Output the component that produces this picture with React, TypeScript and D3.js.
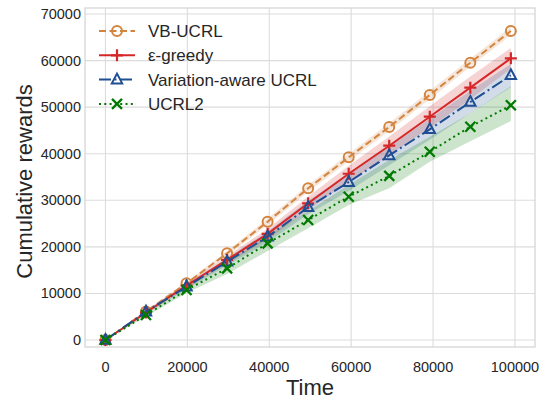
import React, { useRef, useEffect } from 'react';
import * as d3 from 'd3';

// time steps where markers sit
const steps = [0, 9900, 19800, 29700, 39600, 49500, 59400, 69300, 79200, 89100, 99000];

const vbUcrl = [0, 6100, 12170, 18610, 25400, 32570, 39230, 45740, 52610, 59550, 66350];
const vbUcrlLo = [0, 5900, 11800, 18100, 24700, 31800, 38400, 44900, 51700, 58700, 65500];
const vbUcrlHi = [0, 6300, 12500, 19100, 26100, 33300, 40000, 46600, 53500, 60400, 67200];

const epsGreedy = [0, 5900, 11700, 17200, 22800, 29350, 35700, 41720, 47950, 54180, 60490];
const epsGreedyLo = [0, 5600, 11200, 16400, 21600, 27900, 34000, 39700, 45600, 51700, 58200];
const epsGreedyHi = [0, 6200, 12200, 18000, 23900, 30800, 37400, 43700, 50200, 56600, 62700];

const varAware = [0, 6080, 11450, 16810, 22180, 28500, 33900, 39650, 45240, 51100, 56840];
const varAwareLo = [0, 5700, 10900, 16000, 21000, 27000, 32000, 37500, 43000, 48700, 54300];
const varAwareHi = [0, 6400, 12000, 17600, 23300, 29900, 35700, 41600, 47500, 53500, 59300];

const ucrl2 = [0, 5370, 10740, 15390, 20760, 25770, 30770, 35240, 40430, 45800, 50400];
const ucrl2Lo = [0, 5050, 10100, 14200, 19100, 24000, 29000, 32600, 38300, 42700, 47000];
const ucrl2Hi = [0, 5700, 11300, 16600, 22400, 27700, 33300, 38650, 43660, 48700, 54500];

const seriesNames = ['VB-UCRL', 'ε-greedy', 'Variation-aware UCRL', 'UCRL2'];
const xTicks = [0, 20000, 40000, 60000, 80000, 100000];
const yTicks = [0, 10000, 20000, 30000, 40000, 50000, 60000, 70000];

const series = [
  { name: seriesNames[0], mean: vbUcrl, lo: vbUcrlLo, hi: vbUcrlHi, color: '#d4843f', dash: '7,3.5', marker: 'circle' },
  { name: seriesNames[1], mean: epsGreedy, lo: epsGreedyLo, hi: epsGreedyHi, color: '#d62728', dash: null, marker: 'plus' },
  { name: seriesNames[2], mean: varAware, lo: varAwareLo, hi: varAwareHi, color: '#1f4e92', dash: '12,3.5,2,3.5', marker: 'triangle' },
  { name: seriesNames[3], mean: ucrl2, lo: ucrl2Lo, hi: ucrl2Hi, color: '#007a00', dash: '2,3.3', marker: 'x' },
];

const font = '"Liberation Sans", Arial, sans-serif';

function drawMarker(g: any, kind: string, cx: number, cy: number, color: string) {
  if (kind === 'circle') {
    g.append('circle').attr('cx', cx).attr('cy', cy).attr('r', 5)
      .attr('fill', 'none').attr('stroke', color).attr('stroke-width', 2);
  } else if (kind === 'plus') {
    g.append('path').attr('d', `M${cx - 6},${cy}H${cx + 6}M${cx},${cy - 6}V${cy + 6}`)
      .attr('stroke', color).attr('stroke-width', 2.2).attr('fill', 'none');
  } else if (kind === 'triangle') {
    g.append('path').attr('d', `M${cx},${cy - 6}L${cx + 5.2},${cy + 3.8}L${cx - 5.2},${cy + 3.8}Z`)
      .attr('stroke', color).attr('stroke-width', 2).attr('fill', 'none');
  } else {
    g.append('path').attr('d', `M${cx - 5},${cy - 5}L${cx + 5},${cy + 5}M${cx - 5},${cy + 5}L${cx + 5},${cy - 5}`)
      .attr('stroke', color).attr('stroke-width', 2.3).attr('fill', 'none');
  }
}

const App = () => {
  const ref = useRef<SVGSVGElement>(null);

  useEffect(() => {
    const svg = d3.select(ref.current);
    svg.selectAll('*').remove();

    const left = 85, right = 535, top = 8, bottom = 347;

    const x = d3.scaleLinear().domain([-4995, 104895]).range([left, right]);
    const y = d3.scaleLinear().domain([-1500, 71290]).range([bottom, top]);

    // grid
    const grid = svg.append('g');
    xTicks.forEach(t => {
      grid.append('line').attr('x1', x(t)).attr('x2', x(t)).attr('y1', top).attr('y2', bottom)
        .attr('stroke', '#dcdcdc').attr('stroke-width', 1.1);
    });
    yTicks.forEach(t => {
      grid.append('line').attr('x1', left).attr('x2', right).attr('y1', y(t)).attr('y2', y(t))
        .attr('stroke', '#dcdcdc').attr('stroke-width', 1.1);
    });

    // bands
    series.forEach(s => {
      const area = d3.area<number>()
        .x((_, i) => x(steps[i]))
        .y0((_, i) => y(s.lo[i]))
        .y1((_, i) => y(s.hi[i]));
      svg.append('path').attr('d', area(s.mean) as string)
        .attr('fill', s.color).attr('fill-opacity', 0.2);
    });

    // lines + markers
    series.forEach(s => {
      const line = d3.line<number>().x((_, i) => x(steps[i])).y(d => y(d));
      svg.append('path').attr('d', line(s.mean) as string)
        .attr('fill', 'none').attr('stroke', s.color).attr('stroke-width', 2)
        .attr('stroke-dasharray', s.dash);
      const mg = svg.append('g');
      s.mean.forEach((v, i) => drawMarker(mg, s.marker, x(steps[i]), y(v), s.color));
    });

    // frame
    svg.append('rect').attr('x', left).attr('y', top).attr('width', right - left).attr('height', bottom - top)
      .attr('fill', 'none').attr('stroke', '#d6d6d6').attr('stroke-width', 1.3);

    // tick labels
    svg.append('g').selectAll('text').data(xTicks).enter().append('text')
      .attr('x', d => x(d)).attr('y', 371.5).attr('text-anchor', 'middle')
      .attr('font-family', font).attr('font-size', 14.5).attr('fill', '#262626')
      .text(d => d);
    svg.append('g').selectAll('text').data(yTicks).enter().append('text')
      .attr('x', 81).attr('y', d => y(d) + 5).attr('text-anchor', 'end')
      .attr('font-family', font).attr('font-size', 14.5).attr('fill', '#262626')
      .text(d => d);

    // axis titles
    svg.append('text').attr('x', (left + right) / 2).attr('y', 395).attr('text-anchor', 'middle')
      .attr('font-family', font).attr('font-size', 22).attr('fill', '#262626').text('Time');
    svg.append('text').attr('transform', `translate(32,${(top + bottom) / 2 + 4}) rotate(-90)`)
      .attr('text-anchor', 'middle')
      .attr('font-family', font).attr('font-size', 22).attr('fill', '#262626').text('Cumulative rewards');

    // legend
    const lg = svg.append('g');
    series.forEach((s, i) => {
      const cy = 31 + i * 24.3;
      lg.append('line').attr('x1', 99).attr('x2', 135).attr('y1', cy).attr('y2', cy)
        .attr('stroke', s.color).attr('stroke-width', 2).attr('stroke-dasharray', s.dash);
      drawMarker(lg, s.marker, 117, cy, s.color);
      lg.append('text').attr('x', 148).attr('y', cy + 6)
        .attr('font-family', font).attr('font-size', 17).attr('fill', '#262626').text(s.name);
    });
  }, []);

  return (
    <svg ref={ref} width={547} height={400}
      style={{ position: 'absolute', left: 0, top: 0, background: '#fff' }} />
  );
};

export default App;
